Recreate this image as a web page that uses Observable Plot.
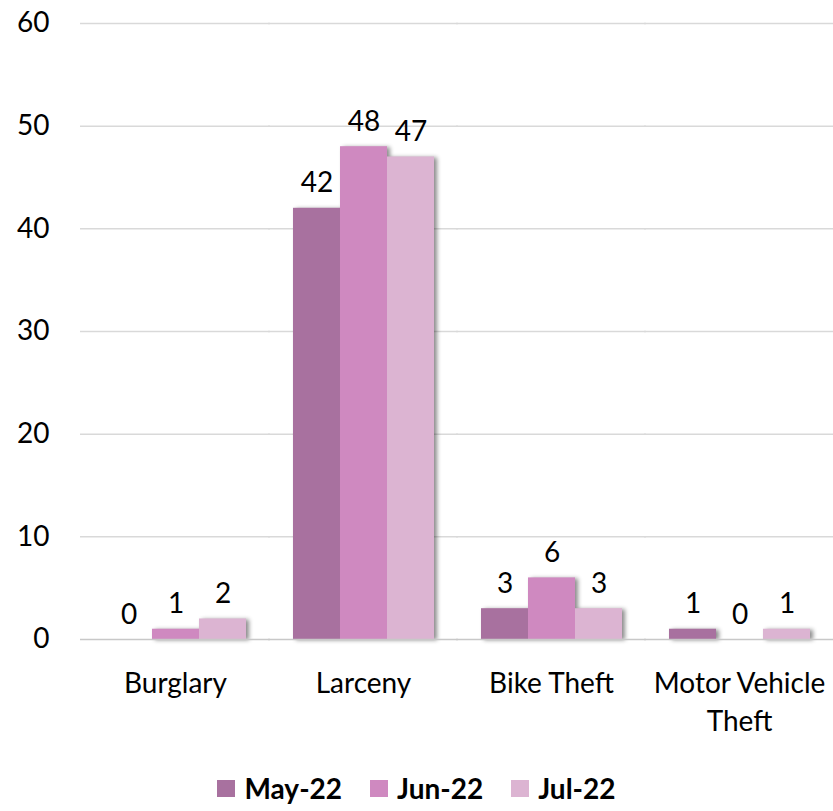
<!DOCTYPE html>
<html>
<head>
<meta charset="utf-8">
<script src="https://cdn.jsdelivr.net/npm/d3@7"></script>
<script src="https://cdn.jsdelivr.net/npm/@observablehq/plot@0.6"></script>
<style>
  html, body { margin: 0; padding: 0; background: #fff; }
  #chart svg { display: block; }
  .bars { filter: drop-shadow(3px 1px 2px rgba(0,0,0,0.45)); }
  #legend { display: flex; justify-content: center; align-items: center; font-family: Lato, sans-serif; font-weight: bold; font-size: 28px; line-height: 34px; color: #000; height: 40px; margin-top: 8px; }
  #legend .item { display: flex; align-items: center; margin: 0 14px; }
  #legend .sw { width: 18px; height: 17px; margin-right: 9px; display: inline-block; }
</style>
</head>
<body>
<div id="chart"></div>
<div id="legend"></div>
<script>
const categories = ["Burglary", "Larceny", "Bike Theft", "Motor Vehicle Theft"];
const months = ["May-22", "Jun-22", "Jul-22"];
const may22 = [0, 42, 3, 1];
const jun22 = [1, 48, 6, 0];
const jul22 = [2, 47, 3, 1];
const yTicks = [0, 10, 20, 30, 40, 50, 60];
const colors = ["#a8719f", "#cf89c0", "#dcb4d2"];

const series = [may22, jun22, jul22];
const data = [];
categories.forEach((c, i) => months.forEach((m, j) => data.push({category: c, month: m, value: series[j][i]})));

const chart = Plot.plot({
  width: 833,
  height: 760,
  marginTop: 23,
  marginLeft: 80,
  marginRight: 0,
  marginBottom: 121,
  style: {fontFamily: "Lato, sans-serif", fontSize: "28px", color: "#000", background: "#fff", overflow: "visible"},
  fx: {domain: categories, paddingInner: 0.245, paddingOuter: 0.1225, label: null},
  x: {domain: months, padding: 0, axis: null},
  y: {domain: [0, 60], label: null, axis: null},
  color: {domain: months, range: colors},
  marks: [
    Plot.ruleY(yTicks.slice(1), {stroke: "#d9d9d9", strokeWidth: 1.5, insetLeft: -24, insetRight: -24}),
    Plot.axisY({ticks: yTicks, tickSize: 0, tickPadding: 55, label: null}),
    Plot.barY(data, {fx: "category", x: "month", y: "value", fill: "month", className: "bars"}),
    Plot.ruleY([0], {stroke: "#c8c8c8", strokeWidth: 1.5, insetLeft: -24, insetRight: -24}),
    Plot.text(data, {fx: "category", x: "month", y: "value", text: d => String(d.value), lineAnchor: "bottom", dy: -16, fill: "#000"}),
    Plot.axisFx({anchor: "bottom", tickSize: 0, tickPadding: 27, lineHeight: 1.35, label: null,
      tickFormat: d => d === "Motor Vehicle Theft" ? "Motor Vehicle\nTheft" : d})
  ]
});
document.getElementById("chart").appendChild(chart);

const legend = document.getElementById("legend");
months.forEach((m, j) => {
  const item = document.createElement("span");
  item.className = "item";
  const sw = document.createElement("span");
  sw.className = "sw";
  sw.style.background = colors[j];
  item.appendChild(sw);
  item.appendChild(document.createTextNode(m));
  legend.appendChild(item);
});
</script>
</body>
</html>
